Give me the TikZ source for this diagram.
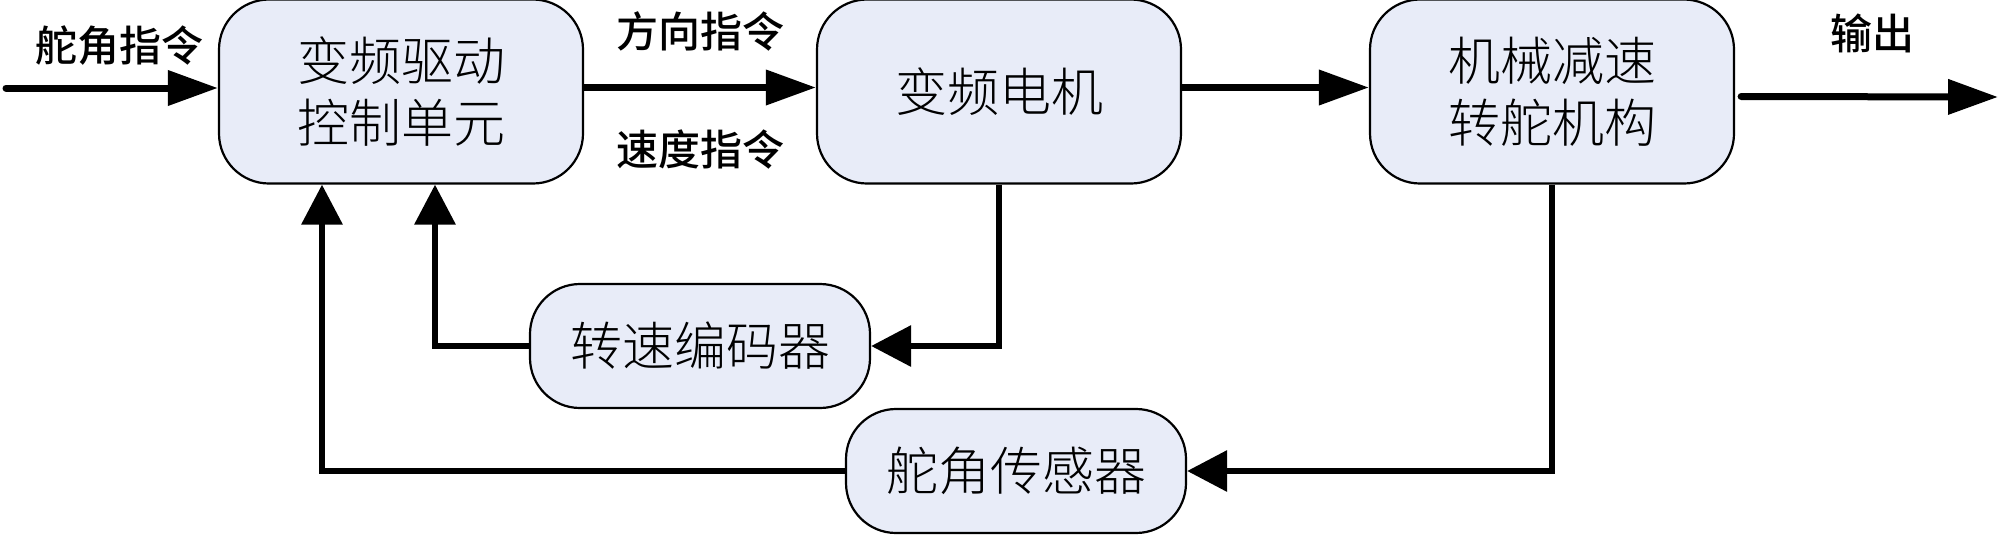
\documentclass[tikz,border=0pt]{standalone}
\usepackage{fontspec}
\newfontfamily\cjk{Noto Sans CJK SC Medium}
\newfontfamily\cjklight{Noto Sans CJK SC Light}
\usetikzlibrary{arrows.meta,calc}
\definecolor{boxfill}{RGB}{232,236,248}
\begin{document}
\begin{tikzpicture}[x=0.5pt,y=-0.5pt,
  blk/.style={draw=black,line width=1.1pt,fill=boxfill,rounded corners=25pt,
    align=center,font=\cjklight\fontsize{26pt}{31pt}\selectfont,inner sep=0pt},
  lbl/.style={font=\cjk\fontsize{21pt}{25pt}\selectfont,inner sep=0pt},
  mainarrow/.style={line width=3.5pt,-{Triangle[length=25pt,width=17pt]}},
  fbarrow/.style={line width=3.2pt,-{Triangle[length=20pt,width=20pt]}}]
\useasboundingbox (0,0) rectangle (2000,536);
\node[blk,minimum width=182pt,minimum height=92pt] (b1) at (401,91.5) {变频驱动\\控制单元};
\node[blk,minimum width=182pt,minimum height=92pt] (b2) at (999,91.5) {变频电机};
\node[blk,minimum width=182pt,minimum height=92pt] (b3) at (1552,91.5) {机械减速\\转舵机构};
\node[blk,minimum width=170pt,minimum height=62pt] (b4) at (700,346) {转速编码器};
\node[blk,minimum width=170pt,minimum height=62pt] (b5) at (1016,471) {舵角传感器};
\node[lbl] (l1) at (119,46) {舵角指令};
\node[lbl] (l2) at (700,31) {方向指令};
\node[lbl] (l3) at (700,150) {速度指令};
\node[lbl] (l4) at (1872,33) {输出};
\coordinate (in) at (6,88);
\coordinate (out) at (1998,97);
\draw[mainarrow,line cap=round] (in) -- (in -| b1.west);
\draw[mainarrow] ($(b1.east)+(0,-4)$) -- ($(b2.west)+(0,-4)$);
\draw[mainarrow] ($(b2.east)+(0,-4)$) -- ($(b3.west)+(0,-4)$);
\draw[mainarrow,line cap=round] ($(b3.east)+(6,5)$) -- (out);
\draw[fbarrow] (b2.south) |- (b4.east);
\draw[fbarrow] (b4.west) -| ($(b1.south)+(34,0)$);
\draw[fbarrow] (b3.south) |- (b5.east);
\draw[fbarrow] (b5.west) -| ($(b1.south)+(-79,0)$);
\end{tikzpicture}
\end{document}
